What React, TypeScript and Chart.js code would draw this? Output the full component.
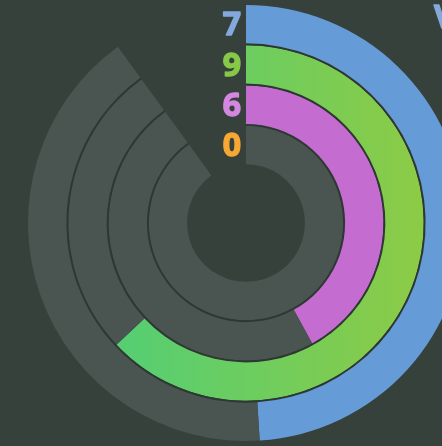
import React, { useEffect, useRef } from 'react';
import { Chart, registerables } from 'chart.js';

Chart.register(...registerables);

// ---- data ----
const rings: string[] = ['Ring 1', 'Ring 2', 'Ring 3', 'Ring 4'];
const values: number[] = [7, 9, 6, 0];
const circleMax: number = 360 / 25.2; // value units for a full circle
const trackMax: number = circleMax * 0.9; // tracks cover 90% of the circle
const titleText = 'Values';

// ---- styles ----
const BG = '#36413c';
const TRACK = '#4a5450';
const SEP = '#2e3833';
const CLEAR = 'rgba(0,0,0,0)';
const ringColors: string[] = ['#659bd6', 'gradient', '#c46ccf', '#f5a52a'];
const labelColors: string[] = ['#84a9dc', '#86c947', '#d487e0', '#f7a733'];
const FONT = 'bold 32px "Open Sans", "Noto Sans", sans-serif';

function greenGradient(chart: any) {
  const { chartArea, ctx } = chart;
  if (!chartArea) return '#6bcd5f';
  const cx = (chartArea.left + chartArea.right) / 2;
  const g = ctx.createLinearGradient(cx - 180, 0, cx + 180, 0);
  g.addColorStop(0, '#4bcf7b');
  g.addColorStop(1, '#8dcb45');
  return g;
}

const labelPlugin = {
  id: 'ringLabels',
  afterDatasetsDraw(chart: any) {
    const ctx = chart.ctx;
    ctx.save();
    ctx.font = FONT;
    ctx.textBaseline = 'middle';
    ctx.textAlign = 'right';
    ctx.lineWidth = 1.4;
    ctx.lineJoin = 'round';
    let cx = 0;
    let cy = 0;
    rings.forEach((_, i) => {
      const meta = chart.getDatasetMeta(i * 2);
      const arc: any = meta.data[0];
      if (!arc) return;
      const p = arc.getProps(['x', 'y', 'innerRadius', 'outerRadius'], true);
      cx = p.x;
      cy = p.y;
      const r = (p.innerRadius + p.outerRadius) / 2;
      ctx.fillStyle = labelColors[i];
      ctx.strokeStyle = labelColors[i];
      ctx.fillText(String(values[i]), p.x - 5, p.y - r + 2);
      ctx.strokeText(String(values[i]), p.x - 5, p.y - r + 2);
    });
    ctx.textAlign = 'left';
    ctx.textBaseline = 'alphabetic';
    ctx.fillStyle = labelColors[0];
    ctx.strokeStyle = labelColors[0];
    ctx.fillText(titleText, cx + 188, cy - 195);
    ctx.strokeText(titleText, cx + 188, cy - 195);
    ctx.restore();
  },
};

export default function App() {
  const ref = useRef<HTMLCanvasElement | null>(null);

  useEffect(() => {
    if (!ref.current) return;
    const datasets: any[] = [];
    values.forEach((v, i) => {
      const color = ringColors[i];
      datasets.push({
        label: rings[i],
        data: [v, trackMax - v, circleMax - trackMax],
        backgroundColor: (c: any) => {
          if (c.dataIndex === 0) return color === 'gradient' ? greenGradient(c.chart) : color;
          if (c.dataIndex === 1) return TRACK;
          return CLEAR;
        },
        borderWidth: 0,
        weight: 1,
      });
      if (i < values.length - 1) {
        datasets.push({
          label: 'sep' + i,
          data: [trackMax, circleMax - trackMax],
          backgroundColor: [SEP, CLEAR],
          borderWidth: 0,
          weight: 0.05,
        });
      }
    });

    const chart = new Chart(ref.current, {
      type: 'doughnut',
      data: { labels: ['value', 'track', 'gap'], datasets },
      options: {
        responsive: false,
        animation: false,
        events: [],
        radius: 218,
        cutout: '27%',
        plugins: {
          legend: { display: false },
          tooltip: { enabled: false },
          title: { display: false },
        },
      } as any,
      plugins: [labelPlugin],
    });
    return () => chart.destroy();
  }, []);

  return (
    <div style={{ position: 'fixed', inset: 0, background: BG, overflow: 'hidden' }}>
      <canvas
        ref={ref}
        width={500}
        height={500}
        style={{ position: 'absolute', left: -4, top: -27, width: 500, height: 500 }}
      />
    </div>
  );
}
